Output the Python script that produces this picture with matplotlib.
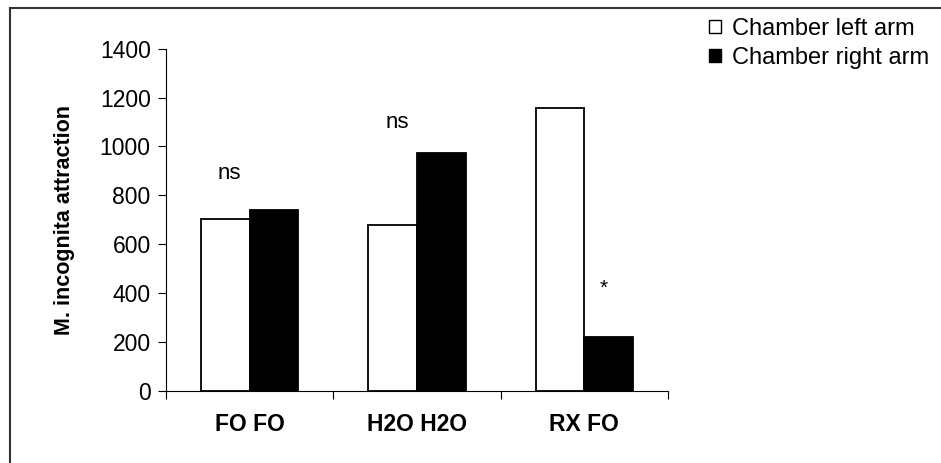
import matplotlib
matplotlib.use("Agg")
import matplotlib.pyplot as plt
from matplotlib.patches import Patch
from matplotlib.lines import Line2D

categories = ["FO FO", "H2O H2O", "RX FO"]
left_arm = [705, 678, 1157]
right_arm = [740, 975, 220]
annotations = ["ns", "ns", "*"]
annot_y = [890, 1100, 420]
annot_x_offset = [-0.12, -0.12, 0.117]
yticks = [0, 200, 400, 600, 800, 1000, 1200, 1400]

plt.rcParams['font.family'] = ['Liberation Sans', 'DejaVu Sans']

fig = plt.figure(figsize=(9.41, 4.63), dpi=100)
ax = fig.add_axes([166/941, 1 - 391/463, (668-166)/941, (391-48.7)/463])

x = list(range(len(categories)))
w = 0.29
ax.bar([i - w/2 for i in x], left_arm, width=w, color='white', edgecolor='black', linewidth=1.3, label='Chamber left arm')
ax.bar([i + w/2 for i in x], right_arm, width=w, color='black', edgecolor='black', linewidth=1.3, label='Chamber right arm')

for i, (t, yy, dx) in enumerate(zip(annotations, annot_y, annot_x_offset)):
    ax.text(i + dx, yy, t, ha='center', va='center', fontsize=16 if t == 'ns' else 15)

ax.set_xlim(-0.5, 2.5)
ax.set_ylim(0, 1400)
ax.set_yticks(yticks)
ax.set_yticklabels([str(v) for v in yticks], fontsize=16.5)
ax.set_xticks([-0.5, 0.5, 1.5, 2.5])
ax.set_xticklabels([])
ax.set_xticks(x, minor=True)
ax.set_xticklabels(categories, minor=True, fontsize=16.5, fontweight='bold')
ax.tick_params(axis='x', which='minor', length=0, pad=16)
ax.tick_params(axis='x', which='major', length=6, width=0.8, direction='out')
ax.tick_params(axis='y', length=6, width=0.8, direction='out', pad=5)
for s in ['top', 'right']:
    ax.spines[s].set_visible(False)
for s in ['left', 'bottom']:
    ax.spines[s].set_linewidth(0.8)

ax.set_ylabel('M. incognita attraction', fontsize=15.5, fontweight='bold', labelpad=18)

handles = [Patch(facecolor='white', edgecolor='black', linewidth=1.0),
           Patch(facecolor='black', edgecolor='black', linewidth=1.0)]
fig.legend(handles, ['Chamber left arm', 'Chamber right arm'], loc='upper left',
           bbox_to_anchor=(704/941, 1 - 13/463), frameon=False, fontsize=17,
           handlelength=0.5, handleheight=0.5, handletextpad=0.5, labelspacing=0.3,
           borderaxespad=0, borderpad=0.2)

fig.add_artist(Line2D([10/941, 10/941], [0, 1 - 7.5/463], transform=fig.transFigure, color='#333333', linewidth=1.5))
fig.add_artist(Line2D([10/941, 1], [1 - 7.5/463, 1 - 7.5/463], transform=fig.transFigure, color='#333333', linewidth=1.5))

fig.savefig('out.png', dpi=100)
